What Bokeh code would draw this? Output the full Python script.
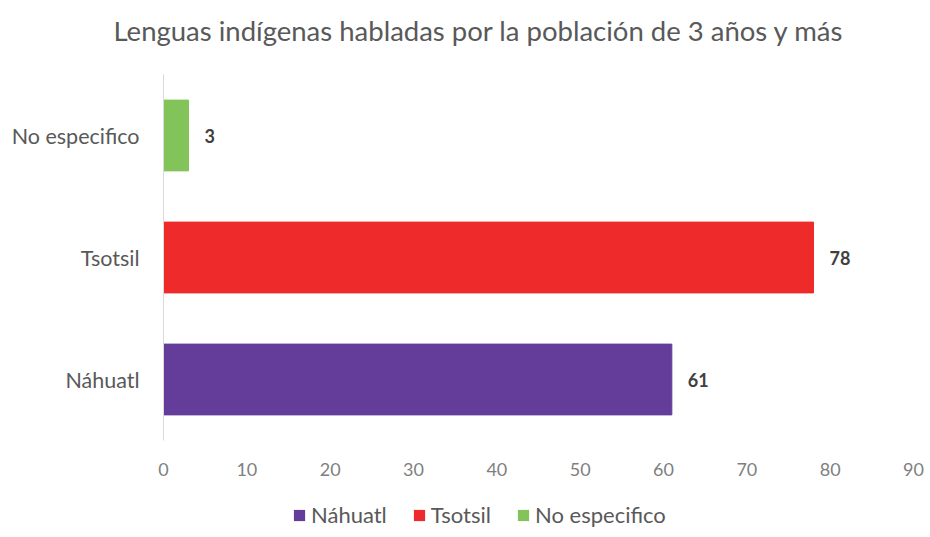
from bokeh.plotting import figure
from bokeh.layouts import column
from bokeh.models import ColumnDataSource, Range1d, FactorRange, Legend, LegendItem, FixedTicker
from bokeh.core.properties import value
from bokeh.embed import file_html
from bokeh.resources import INLINE

categories = ["Náhuatl", "Tsotsil", "No especifico"]
values = [61, 78, 3]
colors = ["#643c9a", "#ee2a2a", "#82c45a"]
x_ticks = [0, 10, 20, 30, 40, 50, 60, 70, 80, 90]
title_text = "Lenguas indígenas habladas por la población de 3 años y más"

FONT = "Lato"
W = 930


def bare(fig):
    fig.xgrid.visible = False
    fig.ygrid.visible = False
    fig.outline_line_color = None
    fig.background_fill_color = "white"
    return fig


source = ColumnDataSource(dict(cat=categories, val=values, color=colors,
                               lbl=[str(v) for v in values]))

# ---- title strip ----
head = bare(figure(width=W, height=74, output_backend="svg", toolbar_location=None,
                   x_range=Range1d(0, 1), y_range=Range1d(0, 1),
                   x_axis_location=None, y_axis_location=None,
                   min_border_left=163, min_border_right=17, min_border_top=0,
                   min_border_bottom=0))
head.title.text = title_text
head.title.align = "left"
head.title.offset = -50
head.title.standoff = 23
head.title.text_font = FONT
head.title.text_font_size = "27.5px"
head.title.text_font_style = "normal"
head.title.text_color = "#595959"

# ---- main chart ----
p = bare(figure(width=W, height=426, output_backend="svg", toolbar_location=None,
                y_range=FactorRange(*categories), x_range=Range1d(0, 90),
                min_border_left=163, min_border_right=17, min_border_top=0,
                min_border_bottom=60))

p.hbar(y="cat", right="val", left=0, height=0.58, color="color", source=source)

p.text(x="val", y="cat", text="lbl", source=source, x_offset=16,
       text_baseline="middle", text_align="left", text_font=value(FONT),
       text_font_size="18px", text_font_style="bold", text_color="#404040")

xa = p.xaxis[0]
xa.ticker = FixedTicker(ticks=x_ticks)
xa.axis_line_color = None
xa.major_tick_line_color = None
xa.minor_tick_line_color = None
xa.major_label_text_font = FONT
xa.major_label_text_font_size = "18px"
xa.major_label_text_color = "#7f7f7f"
xa.major_label_standoff = 16

ya = p.yaxis[0]
ya.axis_line_color = "#d9d9d9"
ya.axis_line_width = 1
ya.major_tick_line_color = None
ya.minor_tick_line_color = None
ya.major_label_text_font = FONT
ya.major_label_text_font_size = "21.5px"
ya.major_label_text_color = "#595959"
ya.major_label_standoff = 18

# ---- legend strip (zero-height bars far outside the visible range; only the legend shows) ----
foot = bare(figure(width=W, height=37, output_backend="svg", toolbar_location=None,
                   x_range=Range1d(1000, 1001), y_range=FactorRange(*categories),
                   x_axis_location=None, y_axis_location=None,
                   min_border_left=163, min_border_right=17, min_border_top=0,
                   min_border_bottom=0))
rl = foot.hbar(y="cat", right="val", left=0, height=0, fill_color="color",
               line_color=None, source=source)
items = [LegendItem(label=c, renderers=[rl], index=i) for i, c in enumerate(categories)]
legend = Legend(items=items, orientation="horizontal", location=(129, 9),
                label_text_font=FONT, label_text_font_size="22px",
                label_text_color="#595959", glyph_width=14, glyph_height=14,
                label_standoff=5, spacing=25, padding=0, margin=0,
                border_line_color=None, background_fill_alpha=0)
foot.add_layout(legend, "center")

layout = column(head, p, foot, spacing=0)
open("out.html", "w").write(file_html(layout, INLINE))
